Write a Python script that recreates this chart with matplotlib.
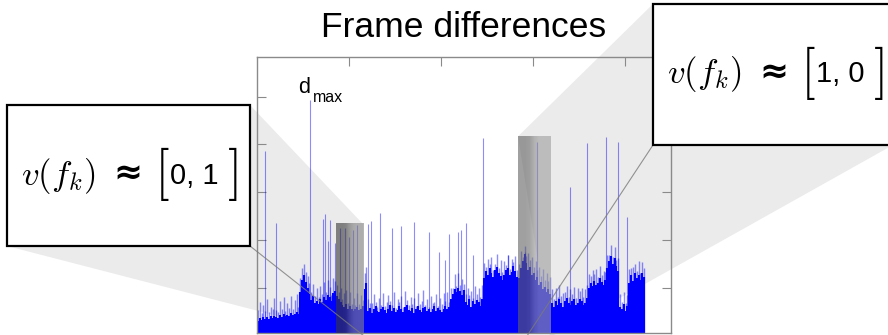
import numpy as np
import matplotlib.pyplot as plt
from matplotlib.patches import Rectangle, Polygon
from matplotlib.lines import Line2D

plt.rcParams['font.family'] = ['Liberation Sans', 'DejaVu Sans']
plt.rcParams['mathtext.fontset'] = 'cm'

W, H = 888, 335

# frame difference signal, one value per 40-frame bin
bin_frames = 40
noise_body = [
    3.0, 3.6, 3.2, 3.9, 3.4, 3.8, 3.5, 4.0, 3.6, 4.1, 3.8, 3.7, 4.2, 3.9, 4.4, 4.0, 4.3, 4.1, 4.6, 4.2, 4.5, 4.8, 4.4,
    9.0, 11.5, 12.6, 11.2, 10.0,
    8.6, 7.4, 8.2, 6.8, 7.2,
    6.6, 7.6, 7.0, 8.0, 7.4, 8.4, 8.0, 7.2, 8.8, 9.2,
    8.2, 7.6, 7.0, 6.4, 6.0, 6.6, 5.6, 6.2, 5.4, 5.0, 5.6, 6.0, 5.2, 5.6, 6.2,
    9.6, 11.0,
    5.0, 5.8, 4.6, 5.4, 6.2, 5.1, 4.8, 5.6, 6.0, 5.2, 4.7, 5.5, 6.3, 5.0, 5.7, 4.9, 5.3, 6.1, 5.5, 4.8, 5.9, 6.4,
    5.2, 5.0, 5.8, 4.6, 5.5, 6.2, 5.3, 4.9, 5.7, 6.0, 5.1, 5.6, 4.8, 5.4, 6.1, 5.0, 5.8, 5.3, 4.9, 5.6, 6.2, 5.5, 6.0,
    7.6, 8.6, 9.6, 9.0, 10.0, 9.2, 8.4, 9.4,
    7.0, 6.4, 7.6, 6.0, 7.2, 6.6, 7.4, 7.0, 6.2, 7.6,
    12.0, 13.4, 12.6, 14.0, 13.0, 12.2, 13.6, 14.4, 13.0, 12.4, 11.6, 12.6, 13.6, 14.0, 12.6, 13.2, 14.6, 13.4, 12.2,
    12.0, 14.0, 15.6, 17.0, 15.2, 13.6, 14.4, 12.6, 13.0, 11.6, 12.2, 10.6, 11.2, 9.6, 10.2, 9.0, 9.6, 8.6,
    6.8, 6.0, 7.2, 6.4, 7.6, 6.8, 6.0, 7.2, 7.8, 6.8, 6.4, 7.2, 7.6, 6.4, 6.8, 7.6, 7.2, 6.4, 6.8, 7.8,
    10.0, 11.0, 10.4, 11.4, 10.6, 11.0, 12.0, 11.2, 10.6, 11.6,
    14.0, 15.6, 16.6, 15.0, 16.2, 14.6, 13.4,
    6.0, 5.4, 6.6, 5.0, 6.2,
    11.0, 12.6, 11.4, 13.0, 12.0, 12.6, 11.6, 13.0, 12.2,
]
noise_tips = [
    5.2, 7.0, 4.6, 6.4, 5.0, 7.6, 4.8, 6.0, 5.6, 7.8, 5.2, 4.9, 7.2, 5.4, 8.0, 5.1, 6.8, 5.7, 8.2, 5.6, 7.4, 8.6, 6.0,
    12.0, 14.0, 15.0, 13.2, 12.4,
    11.0, 9.0, 10.8, 8.2, 9.8,
    8.0, 10.4, 8.6, 11.2, 9.0, 11.6, 10.2, 8.4, 12.0, 11.4,
    10.6, 9.0, 10.0, 7.6, 8.8, 9.4, 6.8, 9.0, 6.6, 7.8, 6.4, 8.8, 6.6, 8.4, 7.4,
    13.0, 14.4,
    7.6, 6.8, 6.8, 8.6, 7.0, 6.0, 7.8, 6.4, 8.8, 6.2, 7.0, 8.4, 7.2, 6.4, 9.0, 5.8, 7.6, 7.0, 8.2, 6.0, 9.2, 7.4,
    6.4, 8.0, 6.6, 7.8, 6.2, 8.8, 6.6, 7.2, 9.4, 6.4, 7.6, 6.0, 8.2, 6.8, 7.0, 8.6, 6.2, 7.8, 6.6, 8.8, 7.2, 9.0, 7.0,
    10.0, 9.8, 12.8, 10.4, 13.0, 10.6, 11.8, 10.8,
    8.6, 9.8, 8.4, 9.2, 7.8, 10.4, 8.6, 9.8, 8.0, 10.6,
    15.2, 14.2, 16.0, 15.0, 16.4, 13.6, 15.0, 17.0, 14.0, 15.8, 13.2, 15.6, 14.8, 16.8, 13.8, 16.0, 15.4, 16.6, 13.6,
    15.0, 17.6, 16.4, 18.8, 16.6, 17.2, 15.8, 16.4, 14.2, 15.6, 13.6, 14.4, 12.4, 13.8, 11.6, 13.0, 11.4, 12.2,
    9.6, 7.6, 10.0, 8.0, 10.6, 8.2, 8.8, 9.0, 10.4, 8.0, 9.6, 8.6, 10.2, 7.8, 9.8, 9.2, 10.0, 8.0, 9.6, 10.6,
    12.8, 12.4, 13.6, 12.8, 13.8, 12.2, 14.6, 12.6, 13.4, 13.2,
    16.8, 16.8, 19.0, 16.4, 18.6, 15.8, 16.2,
    8.6, 7.0, 9.0, 6.8, 8.4,
    13.8, 14.0, 14.4, 15.0, 13.4, 15.6, 13.0, 15.4, 14.0,
]

# isolated peaks (cuts / flashes)
spike_frames = [174, 413, 1153, 1430, 1480, 1538, 1588, 1697, 1795, 1904, 2002, 2095, 2183,
                2409, 2474, 2676, 2938, 3127, 3410, 3743, 3960, 4084, 4178, 4367, 4439, 4541,
                4700, 4924, 5462, 5825, 6093, 6811, 7174, 7594, 7849, 8051]
spike_values = [38.6, 23.5, 49.3, 24.3, 25.4, 19.8, 24.2, 19.3, 22.5, 22.5, 20.6, 22.1, 23.1,
                23.4, 24.0, 25.6, 22.5, 22.9, 23.7, 21.6, 17.5, 15.8, 21.2, 21.6, 22.1, 23.5,
                16.8, 41.4, 16.8, 17.5, 40.5, 31.1, 40.3, 41.6, 40.5, 24.7]

# highlighted frame ranges
sel_start = [1719, 5679]
sel_end = [2307, 6376]
sel_top = [23.3, 41.7]
sel_vector = [('0', '1'), ('1', '0')]

fig = plt.figure(figsize=(W / 100, H / 100), dpi=100)
ax = fig.add_axes([257 / W, 1 - 333.3 / H, 413.7 / W, 276.6 / H])
ax.patch.set_facecolor('none')

frames = np.arange(len(noise_body)) * bin_frames + bin_frames / 2
ax.vlines(frames, 0, noise_tips, color='blue', alpha=0.45, lw=1.0, zorder=2)
ax.vlines(frames, 0, noise_body, color='blue', lw=1.5, zorder=2)
ax.vlines(spike_frames, 0, spike_values, color='blue', alpha=0.45, lw=0.8, zorder=2)

# shaded selections, darker on the left
shades = [np.array([[0.22, 0.22, 0.25, 0.40, 0.50, 0.52, 0.52]]),
          np.array([[0.38, 0.38, 0.42, 0.55, 0.62, 0.62, 0.62]])]
for x0, x1, top, sh in zip(sel_start, sel_end, sel_top, shades):
    ax.imshow(sh, cmap='gray', vmin=0, vmax=1, extent=(x0, x1, -5, top),
              aspect='auto', alpha=0.6, interpolation='bilinear', zorder=4)

ax.set_xlim(0, 9000)
ax.set_ylim(0.4, 58.4)
ax.set_xticks([2000, 4000, 6000, 8000])
ax.set_yticks([10, 20, 30, 40, 50])
ax.tick_params(direction='in', length=6.5, width=0.8, color='#8a8a8a',
               top=True, right=True, labelbottom=False, labelleft=False)
for s in ax.spines.values():
    s.set_color('#8a8a8a')
    s.set_linewidth(1.0)

ax.set_title('Frame differences', fontsize=25.5, pad=14.4)

# label the largest difference
imax = int(np.argmax(spike_values))
ax.annotate('d', xy=(spike_frames[imax], spike_values[imax]), xytext=(-12, 7),
            textcoords='offset pixels', fontsize=15.5, ha='left', va='baseline')
ax.annotate('max', xy=(spike_frames[imax], spike_values[imax]), xytext=(3, -2),
            textcoords='offset pixels', fontsize=11.5, ha='left', va='baseline')


def px(x, y):
    return x / W, 1 - y / H


def data_fig(x, y):
    d = ax.transData.transform((x, y))
    return fig.transFigure.inverted().transform(d)


# callout boxes (left, top, right, bottom) in pixels
callouts = [(7, 105, 250, 246), (653, 4, 893, 145)]
wedge = '#ebebeb'

# left selection -> left callout
l, t, r, b = callouts[0]
poly = [px(r, t), data_fig(sel_end[0], sel_top[0]), data_fig(sel_end[0], -0.6), px(l, b)]
fig.patches.append(Polygon(poly, closed=True, transform=fig.transFigure,
                           facecolor=wedge, edgecolor='none', zorder=-1))
p0, p1 = px(r, b), data_fig(sel_end[0], 0.0)
fig.lines.append(Line2D([p0[0], p1[0]], [p0[1], p1[1]], transform=fig.transFigure,
                        color='#7a7a7a', lw=0.8, alpha=0.8, zorder=3))

# right selection -> right callout
l, t, r, b = callouts[1]
poly = [data_fig(sel_start[1], sel_top[1]), px(l, t), px(r, b), data_fig(sel_end[1], -0.4)]
fig.patches.append(Polygon(poly, closed=True, transform=fig.transFigure,
                           facecolor=wedge, edgecolor='none', zorder=-1))
p0, p1 = px(l, b), data_fig(sel_start[1], -3.0)
fig.lines.append(Line2D([p0[0], p1[0]], [p0[1], p1[1]], transform=fig.transFigure,
                        color='#7a7a7a', lw=0.8, alpha=0.8, zorder=3))

for (l, t, r, b), (a, c) in zip(callouts, sel_vector):
    x0, y1 = px(l, t)
    x1, y0 = px(r, b)
    fig.patches.append(Rectangle((x0, y0), x1 - x0, y1 - y0, transform=fig.transFigure,
                                 facecolor='white', edgecolor='black', lw=1.6, zorder=5))
    yc = 1 - (t + b) / 2 / H
    fig.text((l + 14) / W, yc, r'$v(f_k)$', fontsize=25, ha='left', va='center', zorder=6)
    fig.text((l + 106) / W, yc + 0.006, '≈', family='DejaVu Sans', fontweight='bold',
             fontsize=25, ha='left', va='center', zorder=6)
    fig.text((l + 147) / W, yc + 0.004, r'$[$', fontsize=38, ha='left', va='center', zorder=6)
    fig.text((l + 163) / W, yc, f'{a}, {c}', fontsize=21, ha='left', va='center', zorder=6)
    fig.text((l + 220) / W, yc + 0.004, r'$]$', fontsize=38, ha='left', va='center', zorder=6)

fig.savefig('out.png', dpi=100)
